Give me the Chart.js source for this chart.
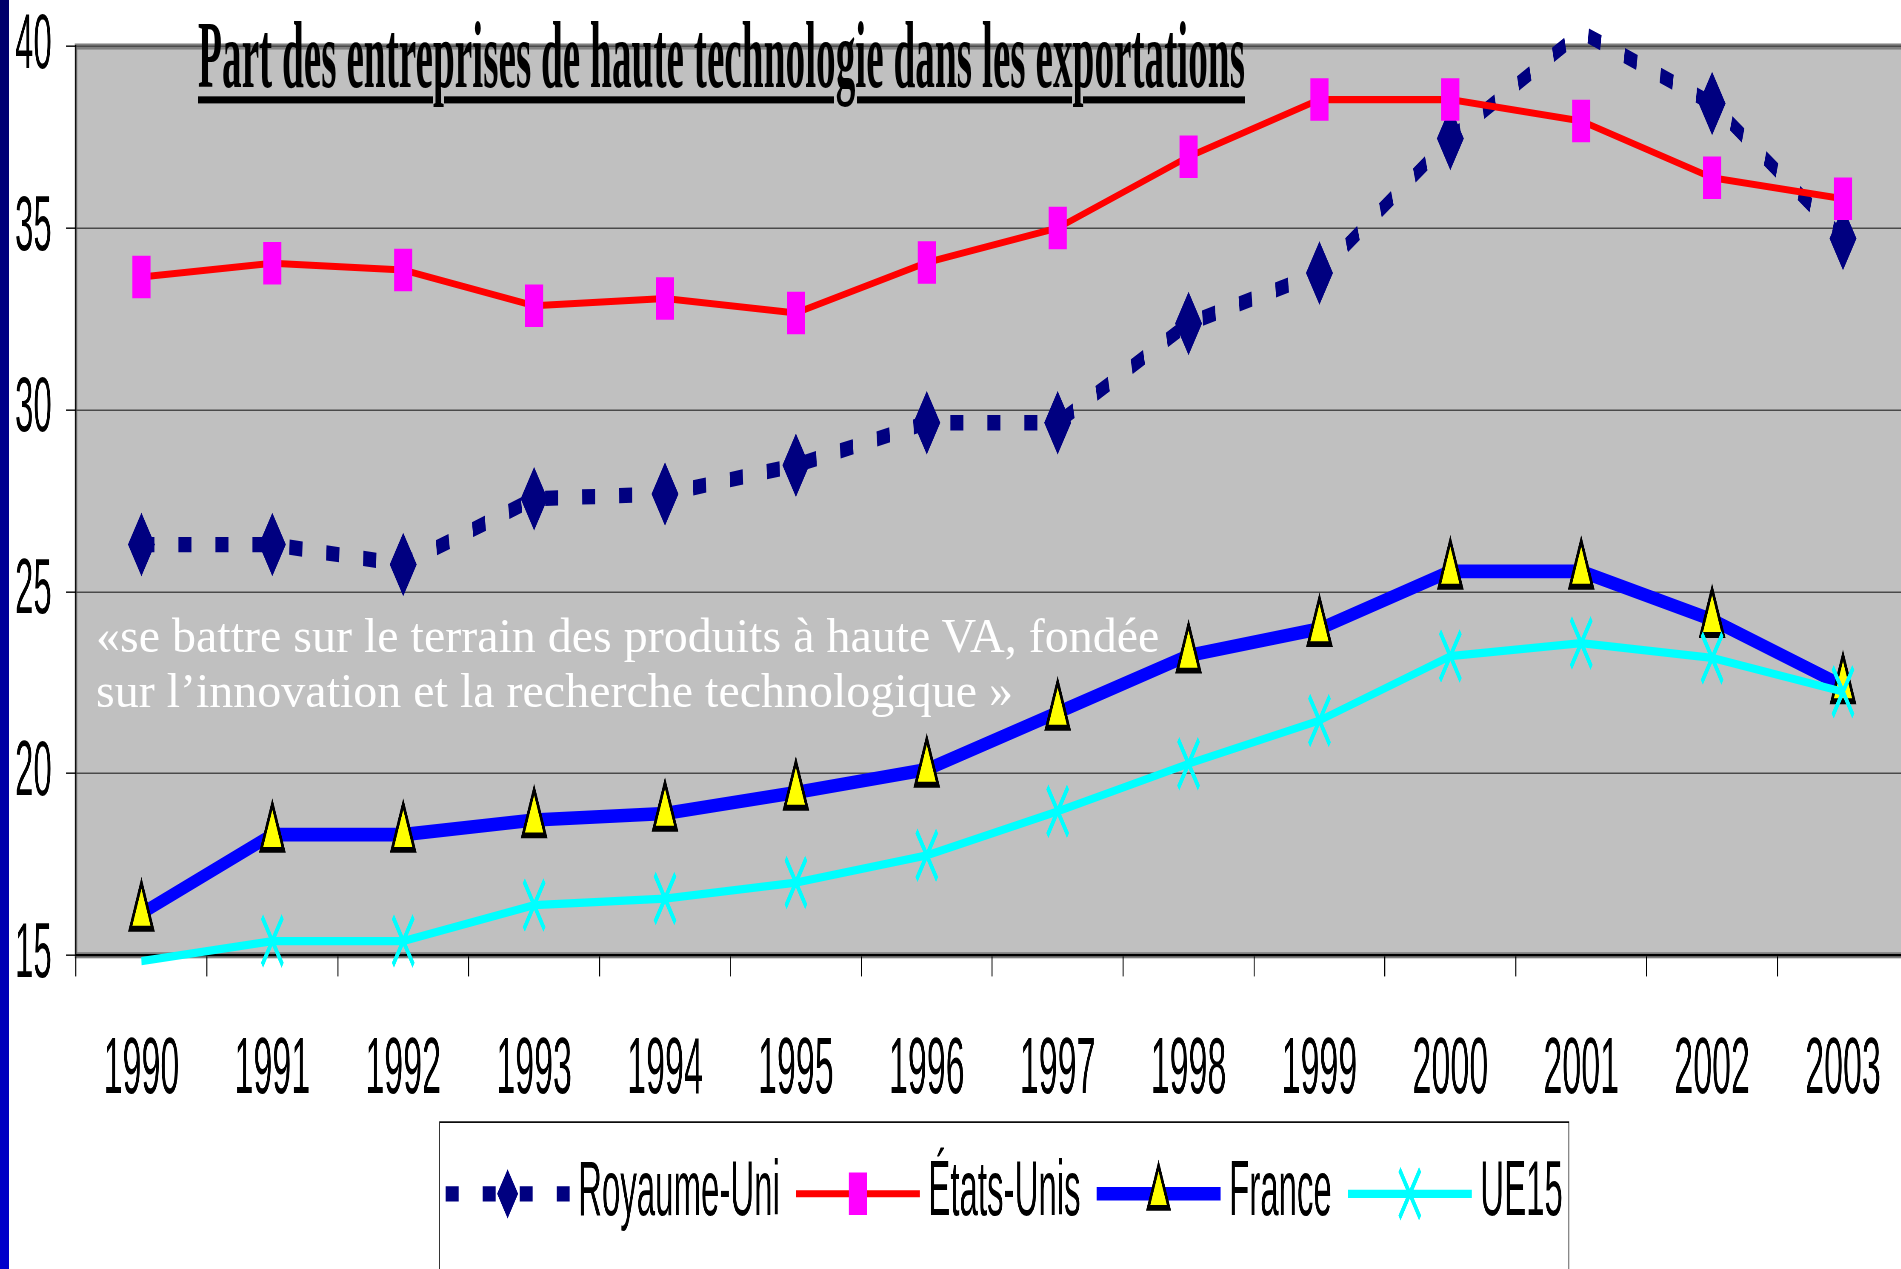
<!DOCTYPE html>
<html lang="fr">
<head>
  <meta charset="UTF-8">
  <title>Part des entreprises de haute technologie dans les exportations</title>
  <script src="https://cdn.jsdelivr.net/npm/chart.js"></script>
  <style>
    html, body { margin: 0; padding: 0; background: #fff; overflow: hidden; }
    body { width: 1901px; height: 1269px; position: relative; }
    /* bande bleue de la diapositive */
    #bande { position: absolute; left: 0; top: 0; width: 9px; height: 1269px;
             background: linear-gradient(#00006a, #0000cc); z-index: 5; }
    /* le graphique d'origine est étiré verticalement : on rend puis on étire */
    #scene { position: absolute; left: 0; top: 0; width: 1926px; height: 540px;
             transform: scaleY(2.35); transform-origin: 0 0; }
    #titre { position: absolute; left: 198px; top: 4px; white-space: nowrap;
             font: bold 40.5px "Liberation Serif", "Times New Roman", serif; line-height: 1;
             text-decoration: underline; text-decoration-thickness: 3.4px; text-underline-offset: 3.5px;
             transform-origin: 0 0; z-index: 2; }
    #citation { position: absolute; left: 96px; top: 608px; color: #fff; white-space: nowrap;
                font: 48px "Liberation Serif", "Times New Roman", serif; line-height: 55px; z-index: 4; }
  </style>
</head>
<body>
  <div id="bande"></div>
  <div id="scene">
    <canvas id="graphique"></canvas>
    <div id="titre"></div>
  </div>
  <div id="citation"></div>

  <script>
    // données (%)
    const annees = ['1990', '1991', '1992', '1993', '1994', '1995', '1996',
                    '1997', '1998', '1999', '2000', '2001', '2002', '2003'];
    const royaumeUni = [26.3, 26.3, 25.75, 27.56, 27.69, 28.48, 29.65, 29.65, 32.38, 33.77, 37.47, 40.4, 38.43, 34.72];
    const etatsUnis  = [33.66, 34.04, 33.85, 32.87, 33.07, 32.67, 34.06, 35.01, 36.97, 38.54, 38.54, 37.95, 36.39, 35.81];
    const france     = [16.15, 18.32, 18.32, 18.72, 18.9, 19.48, 20.11, 21.68, 23.25, 23.98, 25.56, 25.56, 24.23, 22.41];
    const ue15       = [14.84, 15.39, 15.39, 16.38, 16.56, 17.0, 17.75, 18.96, 20.27, 21.46, 23.23, 23.59, 23.18, 22.25];
    const noms = ['Royaume-Uni', 'États-Unis', 'France', 'UE15'];

    const yMin = 15, yMax = 40, yPas = 5;
    const titre = 'Part des entreprises de haute technologie dans les exportations';
    const citation = ['«se battre sur le terrain des produits à haute VA, fondée',
                      'sur l’innovation et la recherche technologique »'];

    Chart.defaults.font.family = '"Liberation Sans", Arial, sans-serif';
    Chart.defaults.color = '#000';

    // pas de marqueur hors de l'échelle (comme dans l'original)
    const rayon = r => c => (c.raw >= yMin && c.raw <= yMax) ? r : 0;

    // fond gris et cadre de la zone de traçage
    const fondZone = {
      id: 'fondZone',
      beforeDraw(chart) {
        const { ctx, chartArea: a } = chart;
        ctx.save();
        ctx.fillStyle = '#c0c0c0';
        ctx.fillRect(a.left, a.top, a.right - a.left, a.bottom - a.top);
        ctx.strokeStyle = '#808080';
        ctx.lineWidth = 2.6;
        ctx.strokeRect(a.left, a.top, a.right - a.left, a.bottom - a.top);
        ctx.restore();
      }
    };

    // la légende de l'original est un peu décalée vers la droite
    const legendeDecalage = {
      id: 'legendeDecalage',
      afterLayout(chart) {
        const lg = chart.legend;
        if (!lg) return;
        lg.left += 16; lg.right += 16;
        lg.top += 1; lg.bottom += 1;
      }
    };

    // échantillons (ligne + marqueur) et cadre de la légende
    const legendeCadre = {
      id: 'legendeCadre',
      afterDraw(chart) {
        const lg = chart.legend, ctx = chart.ctx;
        if (!lg || !lg.legendHitBoxes.length) return;
        const fs = 33;
        const boxes = lg.legendHitBoxes;
        boxes.forEach((hb, i) => {
          const ds = chart.data.datasets[lg.legendItems[i].datasetIndex];
          const y = hb.top + fs / 2;
          const x0 = hb.left - 8, x1 = hb.left + 116;
          ctx.save();
          ctx.strokeStyle = ds.borderColor;
          ctx.lineWidth = ds.borderWidth;
          ctx.lineCap = 'butt';
          ctx.setLineDash(ds.borderDash || []);
          ctx.beginPath();
          ctx.moveTo(x0, y);
          ctx.lineTo(x1, y);
          ctx.stroke();
          ctx.setLineDash([]);
          ctx.fillStyle = ds.pointBackgroundColor;
          ctx.strokeStyle = ds.pointBorderColor;
          ctx.lineWidth = ds.pointBorderWidth;
          Chart.helpers.drawPoint(ctx, {
            pointStyle: ds.pointStyle, radius: ds.legendRadius,
            borderWidth: ds.pointBorderWidth, rotation: 0
          }, (x0 + x1) / 2, y);
          ctx.restore();
        });
        const first = boxes[0], last = boxes[boxes.length - 1];
        ctx.save();
        ctx.strokeStyle = '#000';
        ctx.lineWidth = 0.7;
        ctx.strokeRect(first.left - 14, lg.top + 10, last.left + last.width + 6 - (first.left - 14), chart.height);
        ctx.restore();
      }
    };

    const ctx = document.getElementById('graphique').getContext('2d');
    new Chart(ctx, {
      type: 'line',
      data: {
        labels: annees,
        datasets: [
          {
            label: noms[0], data: royaumeUni, order: 4,
            borderColor: '#000080', borderWidth: 6.5, borderDash: [13, 24], borderCapStyle: 'butt',
            pointStyle: 'rectRot', pointRadius: rayon(13.5), legendRadius: 10.5,
            pointBackgroundColor: '#000080', pointBorderColor: '#000080', pointBorderWidth: 0
          },
          {
            label: noms[1], data: etatsUnis, order: 3,
            borderColor: '#ff0000', borderWidth: 3,
            pointStyle: 'rect', pointRadius: rayon(12.8), legendRadius: 12.8,
            pointBackgroundColor: '#ff00ff', pointBorderColor: '#ff00ff', pointBorderWidth: 0
          },
          {
            label: noms[2], data: france, order: 2,
            borderColor: '#0000ff', borderWidth: 5.8,
            pointStyle: 'triangle', pointRadius: rayon(13), legendRadius: 12,
            pointBackgroundColor: '#ffff00', pointBorderColor: '#000000', pointBorderWidth: 2.5
          },
          {
            label: noms[3], data: ue15, order: 1,
            borderColor: '#00ffff', borderWidth: 3.5,
            pointStyle: 'crossRot', pointRadius: rayon(14.6), legendRadius: 14.6,
            pointBackgroundColor: '#00ffff', pointBorderColor: '#00ffff', pointBorderWidth: 3
          }
        ].map(d => Object.assign({ fill: false, tension: 0, clip: { left: 10, top: 14, right: 10, bottom: 10 } }, d))
      },
      options: {
        responsive: true,
        maintainAspectRatio: false,
        animation: false,
        devicePixelRatio: 2.35,
        events: [],
        layout: { padding: { left: 15, right: 3, top: 0, bottom: 6.5 } },
        scales: {
          x: {
            offset: true,
            grid: { offset: true, drawOnChartArea: false, tickLength: 9, color: '#000', lineWidth: 1 },
            border: { color: '#000', width: 1 },
            ticks: { font: { size: 34 }, color: '#000', padding: 20, maxRotation: 0, autoSkip: false },
            afterFit(s) { s.height = 60; }
          },
          y: {
            min: yMin, max: yMax,
            ticks: { stepSize: yPas, font: { size: 33 }, color: '#000', padding: 0, crossAlign: 'far' },
            grid: { color: '#4a4a4a', lineWidth: 0.6, tickLength: 10, tickColor: '#000', tickWidth: 0.6 },
            border: { color: '#000', width: 1 },
            afterFit(s) { s.width = 61; }
          }
        },
        plugins: {
          legend: {
            position: 'bottom',
            fullSize: false,
            labels: {
              usePointStyle: true,
              pointStyleWidth: 108,
              boxHeight: 0,
              padding: 24,
              font: { size: 33 },
              color: '#000',
              sort: (a, b) => a.datasetIndex - b.datasetIndex
            }
          },
          tooltip: { enabled: false }
        }
      },
      plugins: [fondZone, legendeDecalage, legendeCadre]
    });

    // titre et citation
    const t = document.getElementById('titre');
    t.textContent = titre;
    const largeur = t.getBoundingClientRect().width;
    t.style.transform = 'scaleX(' + (1047 / largeur) + ')';
    document.getElementById('citation').innerHTML = citation.join('<br>');
  </script>
</body>
</html>
